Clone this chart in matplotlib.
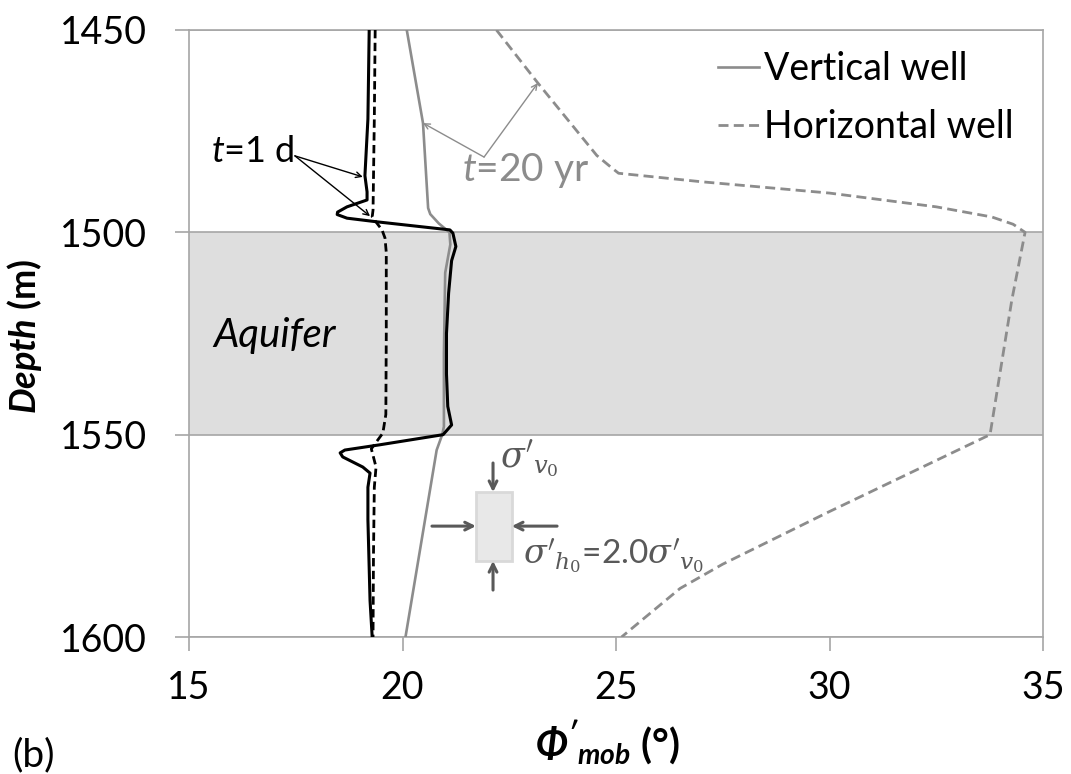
import matplotlib
matplotlib.use("Agg")
import matplotlib.pyplot as plt
from matplotlib.lines import Line2D
from matplotlib.patches import Rectangle

plt.rcParams['font.family'] = ['Lato', 'DejaVu Sans']
plt.rcParams['mathtext.fontset'] = 'custom'
plt.rcParams['mathtext.rm'] = 'Lato'
plt.rcParams['mathtext.it'] = 'Lato:italic'
plt.rcParams['mathtext.bf'] = 'Lato:bold'
plt.rcParams['mathtext.bfit'] = 'Lato:bold:italic'

# t = 1 d, vertical well (black solid)
d1_vert_depth = [1450, 1472, 1486, 1490, 1492, 1493.7, 1495.0, 1495.6, 1496.5, 1497.4, 1499.4, 1500.2,
                 1503.5, 1507, 1515, 1525, 1535, 1543, 1547.6, 1550, 1552.5, 1553.8, 1554.5, 1555.5,
                 1558, 1559.5, 1563, 1571, 1591, 1600]
d1_vert_phi = [19.22, 19.19, 19.12, 19.17, 19.17, 18.70, 18.48, 18.47, 18.70, 19.40, 21.11, 21.18,
               21.25, 21.15, 21.08, 21.03, 21.03, 21.06, 21.15, 20.95, 19.47, 18.65, 18.54, 18.60,
               19.07, 19.24, 19.19, 19.19, 19.24, 19.29]

# t = 1 d, horizontal well (black dashed)
d1_hor_depth = [1450, 1472, 1494.5, 1496.2, 1499.4, 1501.4, 1505, 1525, 1545, 1549.6, 1553.5,
                1558, 1563, 1580, 1600]
d1_hor_phi = [19.36, 19.34, 19.31, 19.29, 19.52, 19.59, 19.62, 19.62, 19.61, 19.54, 19.27,
              19.38, 19.34, 19.32, 19.31]

# t = 20 yr, vertical well (grey solid)
yr20_vert_depth = [1450, 1473, 1494, 1495.5, 1497.8, 1500, 1503, 1510, 1530, 1548, 1550, 1553.8, 1600]
yr20_vert_phi = [20.10, 20.48, 20.60, 20.65, 20.85, 21.10, 21.12, 21.00, 20.97, 20.97, 20.93, 20.80, 20.07]

# t = 20 yr, horizontal well (grey dashed)
yr20_hor_depth = [1450, 1463.1, 1481, 1483.8, 1485.4, 1487.5, 1490.3, 1493.7, 1496.2, 1498, 1500,
                  1516.7, 1550, 1569.3, 1582, 1588, 1600]
yr20_hor_phi = [22.2, 23.17, 24.55, 24.87, 25.06, 27.0, 30.0, 32.5, 33.8, 34.3, 34.58,
                34.27, 33.76, 29.94, 27.5, 26.5, 25.13]

x_ticks = [15, 20, 25, 30, 35]
y_ticks = [1450, 1500, 1550, 1600]
aquifer = (1500, 1550)

GREY = '#8c8c8c'
AXGREY = '#a6a6a6'
DARK = '#595959'

fig = plt.figure(figsize=(10.71, 7.74), dpi=100)
ax = fig.add_axes([189 / 1071, 1 - 637 / 774, 854 / 1071, 607 / 774])

ax.axhspan(aquifer[0], aquifer[1], color='#dedede', lw=0, zorder=0)
for yv in y_ticks:
    ax.axhline(yv, color=AXGREY, lw=1.2, zorder=1)

ax.plot(yr20_vert_phi, yr20_vert_depth, color=GREY, lw=1.9, zorder=3)
ax.plot(yr20_hor_phi, yr20_hor_depth, color=GREY, lw=2.0, ls=(0, (3.6, 1.9)), zorder=3)
ax.plot(d1_hor_phi, d1_hor_depth, color='black', lw=2.0, ls=(0, (3.0, 1.6)), zorder=4)
ax.plot(d1_vert_phi, d1_vert_depth, color='black', lw=2.2, zorder=5)

ax.set_xlim(15, 35)
ax.set_ylim(1600, 1450)
ax.set_xticks(x_ticks)
ax.set_yticks(y_ticks)
ax.tick_params(axis='both', labelsize=27, length=10, width=1.2, color=AXGREY, direction='out')
ax.tick_params(axis='x', pad=14)
ax.tick_params(axis='y', pad=20)
for s in ax.spines.values():
    s.set_color(AXGREY)
    s.set_linewidth(1.2)

ax.set_ylabel(r'$\mathbfit{Depth}$ (m)', fontsize=26, fontweight='bold')
ax.yaxis.set_label_coords(-0.17, 0.495)
ax.set_xlabel(r"$\mathbfit{\Phi'_{mob}}$ (°)", fontsize=29, fontweight='bold')
ax.xaxis.set_label_coords(0.49, -0.175)
ax.xaxis.label.set_va('center')

fig.text(12 / 1071, 1 - 755 / 774, '(b)', fontsize=28, ha='left', va='center')

ax.text(15.58, 1525.5, 'Aquifer', fontsize=29, style='italic', ha='left', va='center')

# annotations
ax.text(15.52, 1480, r'$t$=1 d', fontsize=26, ha='left', va='center')
for tip in [(19.07, 1486.3), (19.24, 1496.0)]:
    ax.annotate('', xy=tip, xytext=(17.48, 1481.1),
                arrowprops=dict(arrowstyle='->', color='black', lw=1.0, shrinkA=0, shrinkB=0))

ax.text(21.4, 1484.6, r'$t$=20 yr', fontsize=28, color=GREY, ha='left', va='center')
for tip in [(20.48, 1473.0), (23.17, 1463.1)]:
    ax.annotate('', xy=tip, xytext=(21.91, 1481.4),
                arrowprops=dict(arrowstyle='->', color=GREY, lw=1.0, shrinkA=0, shrinkB=0))

# stress element sketch
ax.add_patch(Rectangle((21.72, 1564.2), 0.84, 17.0, fc='#e8e8e8', ec='#d9d9d9', lw=2, zorder=2))
arrow_kw = dict(arrowstyle='->', color=DARK, lw=2.2, shrinkA=0, shrinkB=0, mutation_scale=14)
ax.annotate('', xy=(22.12, 1564.2), xytext=(22.12, 1557.0), arrowprops=arrow_kw)
ax.annotate('', xy=(22.12, 1581.2), xytext=(22.12, 1588.4), arrowprops=arrow_kw)
ax.annotate('', xy=(21.72, 1572.6), xytext=(20.69, 1572.6), arrowprops=arrow_kw)
ax.annotate('', xy=(22.56, 1572.6), xytext=(23.62, 1572.6), arrowprops=arrow_kw)
ax.text(22.28, 1558.2, r"$\sigma'_{v_0}$", fontsize=25, color=DARK, ha='left', va='baseline',
        math_fontfamily='dejavuserif')
ax.text(22.82, 1582.0, r"$\sigma'_{h_0}$=2.0$\sigma'_{v_0}$", fontsize=24, color=DARK,
        ha='left', va='baseline', math_fontfamily='dejavuserif')

handles = [Line2D([], [], color=GREY, lw=1.9),
           Line2D([], [], color=GREY, lw=2.0, ls=(0, (3.6, 1.9)))]
ax.legend(handles, ['Vertical well', 'Horizontal well'], loc='upper left',
          bbox_to_anchor=(0.595, 1.0), frameon=False, fontsize=27, handlelength=1.1,
          handletextpad=0.12, labelspacing=0.6, borderaxespad=0.15)

fig.savefig('out.png', dpi=100)
